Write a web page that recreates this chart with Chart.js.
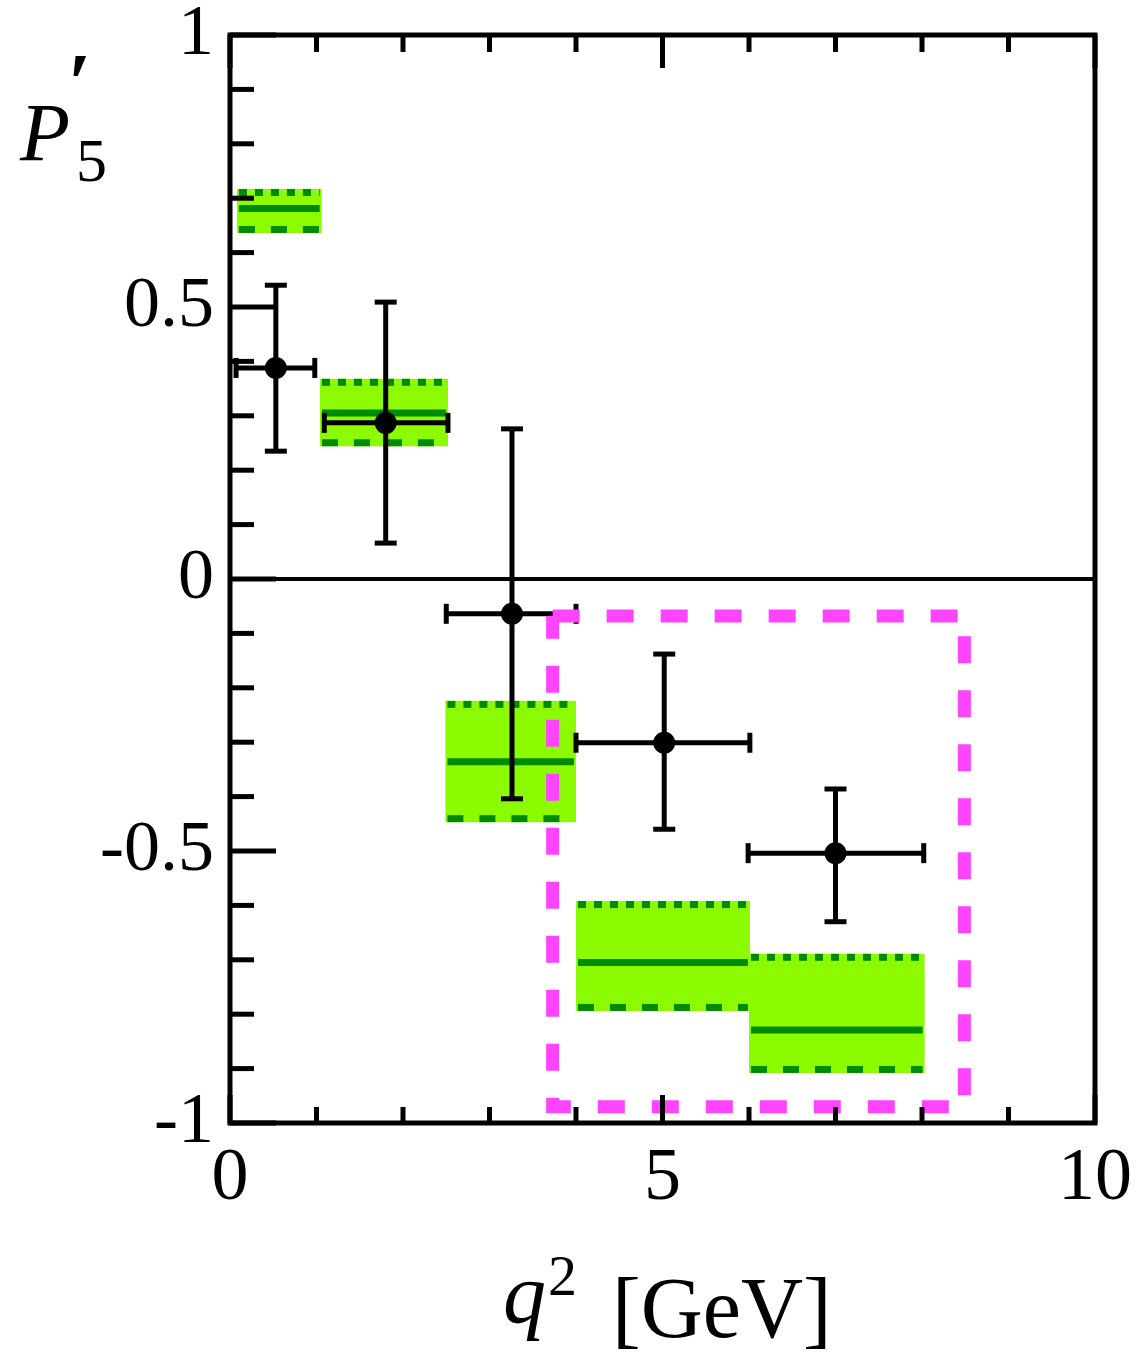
<!DOCTYPE html>
<html>
<head>
<meta charset="utf-8">
<script src="https://cdn.jsdelivr.net/npm/chart.js@4.4.1/dist/chart.umd.min.js"></script>
<style>
body { margin: 0; background: #fff; }
#wrap { width: 1137px; height: 1355px; }
</style>
</head>
<body>
<div id="wrap"><canvas id="P5Chart"></canvas></div>
<script>
// measured points
const point_x   = [0.53, 1.80, 3.26, 5.02, 7.00];
const point_y   = [0.388, 0.287, -0.064, -0.301, -0.504];
const point_xlo = [0.07, 1.09, 2.50, 4.00, 5.99];
const point_xhi = [0.98, 2.52, 4.00, 6.01, 8.02];
const point_ylo = [0.235, 0.066, -0.404, -0.460, -0.630];
const point_yhi = [0.540, 0.509, 0.276, -0.138, -0.386];

// prediction bins
const bin_lo   = [0.08, 1.04, 2.49, 4.00, 6.00];
const bin_hi   = [1.06, 2.52, 4.00, 6.01, 8.03];
const band_mid = [0.681, 0.305, -0.336, -0.705, -0.829];
const band_top = [0.717, 0.368, -0.224, -0.592, -0.689];
const band_bot = [0.636, 0.244, -0.447, -0.794, -0.908];

// highlighted region (magenta dashed box)
const region_x = [3.73, 8.49];
const region_y = [-0.970, -0.068];

// ticks
const x_major = [0, 5, 10];
const x_minor = [1, 2, 3, 4, 6, 7, 8, 9];
const y_major = [-1, -0.5, 0, 0.5, 1];
const y_minor = [-0.9, -0.8, -0.7, -0.6, -0.4, -0.3, -0.2, -0.1, 0.1, 0.2, 0.3, 0.4, 0.6, 0.7, 0.8, 0.9];

const SERIF = "'Liberation Serif', 'DejaVu Serif', serif";

function line(ctx, x0, y0, x1, y1) {
    ctx.beginPath();
    ctx.moveTo(x0, y0);
    ctx.lineTo(x1, y1);
    ctx.stroke();
}

const p5_plugin = {
    id: 'p5',
    beforeDatasetsDraw(chart) {
        const ctx = chart.ctx;
        const a = chart.chartArea;
        const x = chart.scales.x, y = chart.scales.y;
        ctx.save();

        // zero line
        ctx.strokeStyle = '#000';
        ctx.lineWidth = 4;
        line(ctx, a.left, y.getPixelForValue(0), a.right, y.getPixelForValue(0));

        // green bands
        for (let i = 0; i < bin_lo.length; i++) {
            const x0 = x.getPixelForValue(bin_lo[i]);
            const x1 = x.getPixelForValue(bin_hi[i]);
            const yt = y.getPixelForValue(band_top[i]);
            const yb = y.getPixelForValue(band_bot[i]);
            const ym = y.getPixelForValue(band_mid[i]);
            ctx.fillStyle = '#8cfa00';
            ctx.fillRect(x0, yt, x1 - x0, yb - yt);
            ctx.strokeStyle = '#008b00';
            ctx.lineWidth = 7;
            ctx.setLineDash([8, 8]);
            line(ctx, x0 + 2, yt + 3.5, x1 - 2, yt + 3.5);
            ctx.setLineDash([]);
            line(ctx, x0 + 2, ym, x1 - 2, ym);
            ctx.setLineDash([16, 16]);
            line(ctx, x0 + 2, yb - 3.5, x1 - 2, yb - 3.5);
            ctx.setLineDash([]);
        }

        // error bars
        ctx.strokeStyle = '#000';
        ctx.lineWidth = 5;
        for (let i = 0; i < point_x.length; i++) {
            const px = x.getPixelForValue(point_x[i]);
            const py = y.getPixelForValue(point_y[i]);
            const xl = x.getPixelForValue(point_xlo[i]);
            const xh = x.getPixelForValue(point_xhi[i]);
            const yl = y.getPixelForValue(point_ylo[i]);
            const yh = y.getPixelForValue(point_yhi[i]);
            line(ctx, xl, py, xh, py);
            line(ctx, px, yl, px, yh);
            line(ctx, xl, py - 10, xl, py + 10);
            line(ctx, xh, py - 10, xh, py + 10);
            line(ctx, px - 11, yl, px + 11, yl);
            line(ctx, px - 11, yh, px + 11, yh);
        }
        ctx.restore();
    },
    afterDraw(chart) {
        const ctx = chart.ctx;
        const a = chart.chartArea;
        const x = chart.scales.x, y = chart.scales.y;
        ctx.save();
        ctx.strokeStyle = '#000';
        ctx.lineWidth = 5;
        ctx.strokeRect(a.left, a.top, a.right - a.left, a.bottom - a.top);

        // inward ticks: left, bottom, top
        y_major.forEach(v => { const p = y.getPixelForValue(v); line(ctx, a.left, p, a.left + 46, p); });
        y_minor.forEach(v => { const p = y.getPixelForValue(v); line(ctx, a.left, p, a.left + 24, p); });
        x_major.forEach(v => {
            const p = x.getPixelForValue(v);
            line(ctx, p, a.bottom, p, a.bottom - 28);
            line(ctx, p, a.top, p, a.top + 33);
        });
        x_minor.forEach(v => {
            const p = x.getPixelForValue(v);
            line(ctx, p, a.bottom, p, a.bottom - 16);
            line(ctx, p, a.top, p, a.top + 17);
        });

        // axis titles
        ctx.fillStyle = '#000';
        ctx.textBaseline = 'alphabetic';
        ctx.textAlign = 'left';
        ctx.font = "italic 82px " + SERIF;
        ctx.fillText('P', 20, 160);
        ctx.font = "bold 84px " + SERIF;
        ctx.fillText('\u2032', 68, 112);
        ctx.font = "62px " + SERIF;
        ctx.fillText('5', 76, 181);

        ctx.font = "italic 86px " + SERIF;
        ctx.fillText('q', 503, 1322);
        ctx.font = "58px " + SERIF;
        ctx.fillText('2', 548, 1295);
        ctx.font = "86px " + SERIF;
        ctx.fillText('[GeV]', 612, 1337);
        ctx.restore();
    }
};

function set_ticks(list) {
    return function (scale) {
        scale.ticks = list.map(v => ({ value: v }));
    };
}

const ctx = document.getElementById('P5Chart').getContext('2d');

new Chart(ctx, {
    type: 'scatter',
    data: {
        datasets: [
            {
                label: 'region',
                data: [
                    { x: region_x[0], y: region_y[1] },
                    { x: region_x[1], y: region_y[1] },
                    { x: region_x[1], y: region_y[0] },
                    { x: region_x[0], y: region_y[0] },
                    { x: region_x[0], y: region_y[1] }
                ],
                showLine: true,
                borderColor: '#ff44ff',
                borderWidth: 13,
                borderDash: [27, 27],
                borderCapStyle: 'butt',
                pointRadius: 0,
                fill: false
            },
            {
                label: 'data',
                data: point_x.map((v, i) => ({ x: v, y: point_y[i] })),
                backgroundColor: '#000',
                borderWidth: 0,
                pointRadius: 11
            }
        ]
    },
    options: {
        responsive: true,
        maintainAspectRatio: false,
        animation: false,
        layout: { padding: { top: 35, right: 42, left: 0, bottom: 0 } },
        plugins: {
            legend: { display: false },
            tooltip: { enabled: false }
        },
        scales: {
            x: {
                type: 'linear',
                min: 0,
                max: 10,
                grid: { display: false, drawTicks: false },
                border: { display: false },
                afterBuildTicks: set_ticks(x_major),
                afterFit(scale) {
                    scale.height = 232;
                    scale.paddingLeft = 0;
                    scale.paddingRight = 0;
                },
                ticks: {
                    autoSkip: false,
                    maxRotation: 0,
                    padding: 12,
                    color: '#000',
                    font: { family: SERIF, size: 74 },
                    callback: v => String(v)
                }
            },
            y: {
                type: 'linear',
                min: -1,
                max: 1,
                grid: { display: false, drawTicks: false },
                border: { display: false },
                afterBuildTicks: set_ticks(y_major),
                afterFit(scale) {
                    scale.width = 230;
                    scale.paddingTop = 0;
                    scale.paddingBottom = 0;
                },
                ticks: {
                    autoSkip: false,
                    padding: 16,
                    color: '#000',
                    font: { family: SERIF, size: 72 },
                    callback: v => String(v)
                }
            }
        }
    },
    plugins: [p5_plugin]
});
</script>
</body>
</html>
